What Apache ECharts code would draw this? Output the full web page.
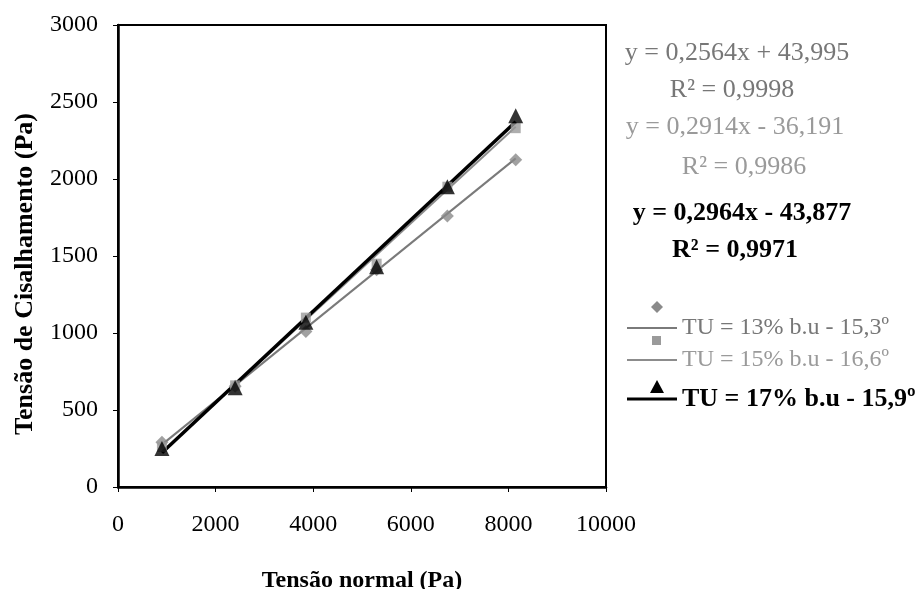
<!DOCTYPE html>
<html>
<head>
<meta charset="utf-8">
<title>Tensão de Cisalhamento x Tensão normal</title>
<script src="https://cdn.jsdelivr.net/npm/echarts@6/dist/echarts.min.js"></script>
<style>
    html, body { margin: 0; padding: 0; background: #fff; }
    #chart { width: 920px; height: 589px; }
</style>
</head>
<body>
<div id="chart"></div>
<script>
// 数据
const tensaoNormal = [900, 2400, 3850, 5300, 6750, 8150];
const tu13 = [290, 655, 1010, 1410, 1760, 2125];
const tu15 = [260, 660, 1100, 1450, 1950, 2330];
const tu17 = [250, 645, 1070, 1430, 1950, 2410];

// 趋势线两端（图上读取）
const trendX = [900, 8150];
const trend13 = [275, 2134];
const trend15 = [226, 2339];
const trend17 = [223, 2372];

const seriesNames = ['TU = 13% b.u - 15,3º', 'TU = 15% b.u - 16,6º', 'TU = 17% b.u - 15,9º'];
const equacoes = ['y = 0,2564x + 43,995', 'y = 0,2914x - 36,191', 'y = 0,2964x - 43,877'];
const r2 = ['R² = 0,9998', 'R² = 0,9986', 'R² = 0,9971'];

const xTicks = [0, 2000, 4000, 6000, 8000, 10000];
const yTicks = [0, 500, 1000, 1500, 2000, 2500, 3000];

const serif = '"Liberation Serif", "DejaVu Serif", serif';

function pares(xs, ys) {
    return xs.map(function (x, i) { return [x, ys[i]]; });
}

// 居中文字
function texto(str, x, y, size, color, bold) {
    return {
        type: 'text',
        style: {
            text: str, x: x, y: y, align: 'center', verticalAlign: 'middle',
            font: (bold ? 'bold ' : '') + size + 'px ' + serif, fill: color
        }
    };
}

function textoEsq(str, x, y, size, color, bold) {
    return {
        type: 'text',
        style: {
            text: str, x: x, y: y, align: 'left', verticalAlign: 'middle',
            font: (bold ? 'bold ' : '') + size + 'px ' + serif, fill: color
        }
    };
}

var myChart = echarts.init(document.getElementById('chart'));

var option = {
    backgroundColor: '#fff',
    animation: false,
    textStyle: { fontFamily: serif },
    grid: {
        left: 118,
        top: 25,
        right: 314,
        bottom: 102,
        outerBoundsMode: 'none',
        containLabel: false,
        show: true,
        borderColor: '#000',
        borderWidth: 2
    },
    xAxis: {
        type: 'value',
        min: xTicks[0],
        max: xTicks[xTicks.length - 1],
        interval: 2000,
        name: 'Tensão normal (Pa)',
        nameLocation: 'middle',
        nameGap: 82,
        nameTextStyle: { fontFamily: serif, fontSize: 24, fontWeight: 'bold', color: '#000' },
        axisLine: { onZero: false, lineStyle: { color: '#000', width: 2.5 } },
        axisTick: { show: true, inside: false, length: 5, lineStyle: { color: '#000' } },
        axisLabel: {
            margin: 26, fontFamily: serif, fontSize: 24, color: '#000',
            formatter: function (v) { return String(v); }
        },
        splitLine: { show: false }
    },
    yAxis: {
        type: 'value',
        min: yTicks[0],
        max: yTicks[yTicks.length - 1],
        interval: 500,
        name: 'Tensão de Cisalhamento (Pa)',
        nameLocation: 'middle',
        nameGap: 80,
        nameTextStyle: {
            fontFamily: serif, fontSize: 26, fontWeight: 'bold', color: '#000',
            padding: [0, 36, 0, 0]
        },
        axisLine: { onZero: false, lineStyle: { color: '#000', width: 2.5 } },
        axisTick: { show: true, inside: false, length: 5, lineStyle: { color: '#000' } },
        axisLabel: {
            margin: 20, fontFamily: serif, fontSize: 24, color: '#000',
            formatter: function (v) { return String(v); }
        },
        splitLine: { show: false }
    },
    series: [
        // 趋势线
        {
            name: 'trend13', type: 'line', data: pares(trendX, trend13), symbol: 'none',
            lineStyle: { color: '#7a7a7a', width: 2 }, z: 2
        },
        {
            name: 'trend15', type: 'line', data: pares(trendX, trend15), symbol: 'none',
            lineStyle: { color: '#8c8c8c', width: 2 }, z: 2
        },
        {
            name: 'trend17', type: 'line', data: pares(trendX, trend17), symbol: 'none',
            lineStyle: { color: '#000', width: 3.5 }, z: 3
        },
        // 数据点
        {
            name: seriesNames[0], type: 'scatter', data: pares(tensaoNormal, tu13),
            symbol: 'diamond', symbolSize: 13, itemStyle: { color: '#8a8a8a' }, z: 4
        },
        {
            name: seriesNames[1], type: 'scatter', data: pares(tensaoNormal, tu15),
            symbol: 'rect', symbolSize: 10, itemStyle: { color: '#9a9a9a' }, z: 4
        },
        {
            name: seriesNames[2], type: 'scatter', data: pares(tensaoNormal, tu17),
            symbol: 'triangle', symbolSize: 15, itemStyle: { color: '#000' }, z: 5
        }
    ],
    graphic: [
        // 回归方程
        texto(equacoes[0], 737, 53, 26, '#777'),
        texto(r2[0], 732, 90, 26, '#777'),
        texto(equacoes[1], 735, 127, 26, '#9a9a9a'),
        texto(r2[1], 744, 167, 26, '#9a9a9a'),
        texto(equacoes[2], 742, 213, 26, '#000', true),
        texto(r2[2], 735, 250, 26, '#000', true),

        // 图例
        { type: 'polygon', shape: { points: [[657, 301], [663, 307], [657, 313], [651, 307]] }, style: { fill: '#8a8a8a' } },
        { type: 'line', shape: { x1: 627, y1: 328, x2: 677, y2: 328 }, style: { stroke: '#7a7a7a', lineWidth: 2 } },
        textoEsq(seriesNames[0], 682, 328, 24, '#777'),

        { type: 'rect', shape: { x: 652, y: 336, width: 9, height: 9 }, style: { fill: '#9a9a9a' } },
        { type: 'line', shape: { x1: 627, y1: 360, x2: 677, y2: 360 }, style: { stroke: '#8c8c8c', lineWidth: 2 } },
        textoEsq(seriesNames[1], 682, 360, 24, '#9a9a9a'),

        { type: 'polygon', shape: { points: [[657, 380], [664, 393], [650, 393]] }, style: { fill: '#000' } },
        { type: 'line', shape: { x1: 627, y1: 399, x2: 677, y2: 399 }, style: { stroke: '#000', lineWidth: 3 } },
        textoEsq(seriesNames[2], 682, 399, 26, '#000', true)
    ]
};

myChart.setOption(option);
</script>
</body>
</html>
